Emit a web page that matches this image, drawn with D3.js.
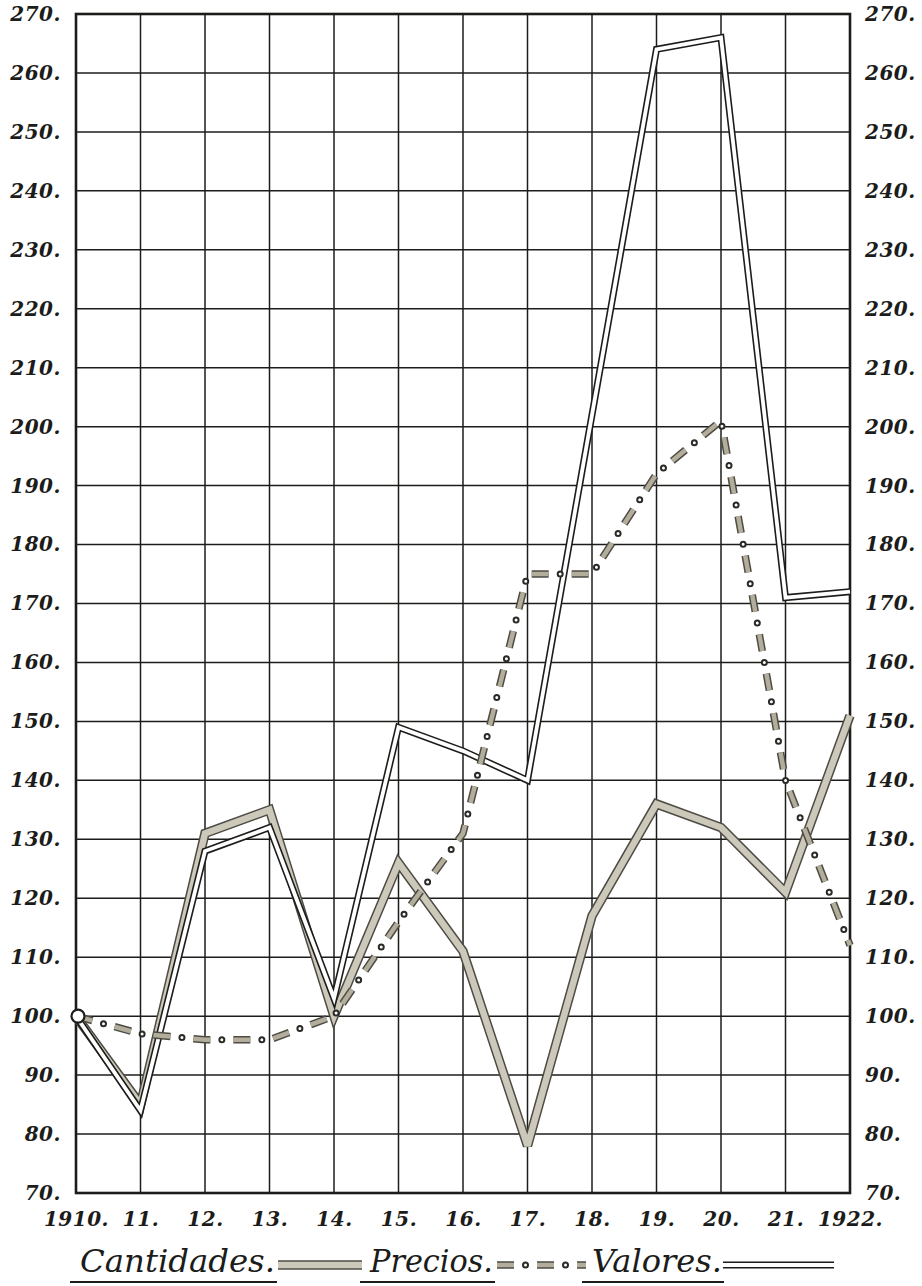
<!DOCTYPE html>
<html>
<head>
<meta charset="utf-8">
<script src="https://cdn.jsdelivr.net/npm/d3@7"></script>
<style>
  body { margin: 0; background: #fff; }
  svg { display: block; }
</style>
</head>
<body>
<div id="chart"></div>
<script>
// Years on the x axis and their hand-written labels
const years = [1910, 1911, 1912, 1913, 1914, 1915, 1916, 1917, 1918, 1919, 1920, 1921, 1922];
const yearLabels = ["1910.", "11.", "12.", "13.", "14.", "15.", "16.", "17.", "18.", "19.", "20.", "21.", "1922."];

// Index values (1910 = 100)
const cantidades = [100, 85, 131, 135, 100, 126, 111, 78, 117, 136, 132, 121, 151];
const precios = [100, 97, 96, 96, 100, 116, 131, 175, 175, 192, 201, 140, 112];
const valores = [100, 84, 128, 132, 103, 149, 145, 140, 202, 264, 266, 171, 172];

// y ticks
const yTicks = [70, 80, 90, 100, 110, 120, 130, 140, 150, 160, 170, 180, 190, 200, 210, 220, 230, 240, 250, 260, 270];

const legendNames = ["Cantidades.", "Precios.", "Valores."];

const width = 922, height = 1286;
const plotLeft = 76, plotRight = 850, plotTop = 14, plotBottom = 1193;

const svg = d3.select("#chart")
  .append("svg")
  .attr("width", width)
  .attr("height", height);

const x = d3.scaleLinear().domain([1910, 1922]).range([plotLeft, plotRight]);
const y = d3.scaleLinear().domain([70, 270]).range([plotBottom, plotTop]);

const ink = "#1c1c1a";
const tickFont = "'DejaVu Serif', serif";

// Grid lines (horizontal)
svg.append("g")
  .selectAll("line")
  .data(yTicks)
  .enter()
  .append("line")
  .attr("x1", plotLeft).attr("x2", plotRight)
  .attr("y1", d => y(d)).attr("y2", d => y(d))
  .style("stroke", ink)
  .style("stroke-width", 1.5);

// Grid lines (vertical)
svg.append("g")
  .selectAll("line")
  .data(years)
  .enter()
  .append("line")
  .attr("x1", d => x(d)).attr("x2", d => x(d))
  .attr("y1", plotTop).attr("y2", plotBottom)
  .style("stroke", ink)
  .style("stroke-width", 1.5);

// Frame
svg.append("rect")
  .attr("x", plotLeft).attr("y", plotTop)
  .attr("width", plotRight - plotLeft).attr("height", plotBottom - plotTop)
  .style("fill", "none")
  .style("stroke", ink)
  .style("stroke-width", 2.6);

// Axes: only the labels, the grid is drawn above
function styleAxis(g) {
  g.select(".domain").remove();
  g.selectAll(".tick line").remove();
  g.selectAll(".tick text")
    .style("font-family", tickFont)
    .style("font-style", "italic")
    .style("font-weight", "bold")
    .style("font-size", "20px")
    .style("letter-spacing", "0.5px")
    .style("fill", ink);
}

svg.append("g")
  .attr("transform", `translate(${plotLeft},0)`)
  .call(d3.axisLeft(y).tickValues(yTicks).tickFormat(d => d + ".").tickSize(0).tickPadding(15))
  .call(styleAxis);

svg.append("g")
  .attr("transform", `translate(${plotRight},0)`)
  .call(d3.axisRight(y).tickValues(yTicks).tickFormat(d => d + ".").tickSize(0).tickPadding(15))
  .call(styleAxis);

svg.append("g")
  .attr("transform", `translate(0,${plotBottom})`)
  .call(d3.axisBottom(x).tickValues(years).tickFormat((d, i) => yearLabels[i]).tickSize(0).tickPadding(19))
  .call(styleAxis);

const line = d3.line()
  .x((d, i) => x(years[i]))
  .y(d => y(d));

// Cantidades: grey band with dark edges
function bandPath(sel) {
  sel.append("path")
    .attr("d", sel.datum())
    .style("fill", "none")
    .style("stroke", "#4d4b44")
    .style("stroke-width", 9.5)
    .style("stroke-linejoin", "miter")
    .style("stroke-miterlimit", 3);
  sel.append("path")
    .attr("d", sel.datum())
    .style("fill", "none")
    .style("stroke", "#cdc9ba")
    .style("stroke-width", 6.5)
    .style("stroke-linejoin", "miter")
    .style("stroke-miterlimit", 3);
}

// Valores: double black line
function doublePath(sel) {
  sel.append("path")
    .attr("d", sel.datum())
    .style("fill", "none")
    .style("stroke", ink)
    .style("stroke-width", 7)
    .style("stroke-linejoin", "miter");
  sel.append("path")
    .attr("d", sel.datum())
    .style("fill", "none")
    .style("stroke", "#fff")
    .style("stroke-width", 3.8)
    .style("stroke-linejoin", "miter");
}

// Precios: dashes and hollow dots
function dashDotPath(sel) {
  sel.append("path")
    .attr("d", sel.datum())
    .style("fill", "none")
    .style("stroke", "#4d4b44")
    .style("stroke-width", 7.5)
    .style("stroke-dasharray", "17 23");
  sel.append("path")
    .attr("d", sel.datum())
    .style("fill", "none")
    .style("stroke", "#b3ae9c")
    .style("stroke-width", 4.5)
    .style("stroke-dasharray", "17 23");
  sel.append("path")
    .attr("d", sel.datum())
    .style("fill", "none")
    .style("stroke", "#2a2a26")
    .style("stroke-width", 7)
    .style("stroke-linecap", "round")
    .style("stroke-dasharray", "0 40")
    .style("stroke-dashoffset", -28.5);
  sel.append("path")
    .attr("d", sel.datum())
    .style("fill", "none")
    .style("stroke", "#fff")
    .style("stroke-width", 3)
    .style("stroke-linecap", "round")
    .style("stroke-dasharray", "0 40")
    .style("stroke-dashoffset", -28.5);
}

svg.append("g").datum(line(cantidades)).call(bandPath);
svg.append("g").datum(line(valores)).call(doublePath);
svg.append("g").datum(line(precios)).call(dashDotPath);

// Starting point circle
svg.append("circle")
  .attr("cx", x(1910) + 2)
  .attr("cy", y(100))
  .attr("r", 6.5)
  .style("fill", "#fff")
  .style("stroke", ink)
  .style("stroke-width", 2.2);

// Legend
const legendY = 1272;
const legendItems = [
  { name: legendNames[0], x: 80, w: 195, sx1: 278, sx2: 362, draw: bandPath },
  { name: legendNames[1], x: 370, w: 123, sx1: 497, sx2: 586, draw: dashDotPath },
  { name: legendNames[2], x: 592, w: 130, sx1: 723, sx2: 834, draw: doublePath }
];

const legend = svg.append("g");
legendItems.forEach(item => {
  legend.append("text")
    .attr("x", item.x)
    .attr("y", legendY)
    .attr("textLength", item.w)
    .attr("lengthAdjust", "spacingAndGlyphs")
    .style("font-family", tickFont)
    .style("font-style", "italic")
    .style("font-size", "31px")
    .style("fill", ink)
    .text(item.name);
  legend.append("line")
    .attr("x1", item.x - 10).attr("x2", item.x + item.w + 2)
    .attr("y1", legendY + 10).attr("y2", legendY + 10)
    .style("stroke", ink)
    .style("stroke-width", 2);
  legend.append("g")
    .datum(`M${item.sx1},${legendY - 7}L${item.sx2},${legendY - 7}`)
    .call(item.draw);
});
</script>
</body>
</html>
